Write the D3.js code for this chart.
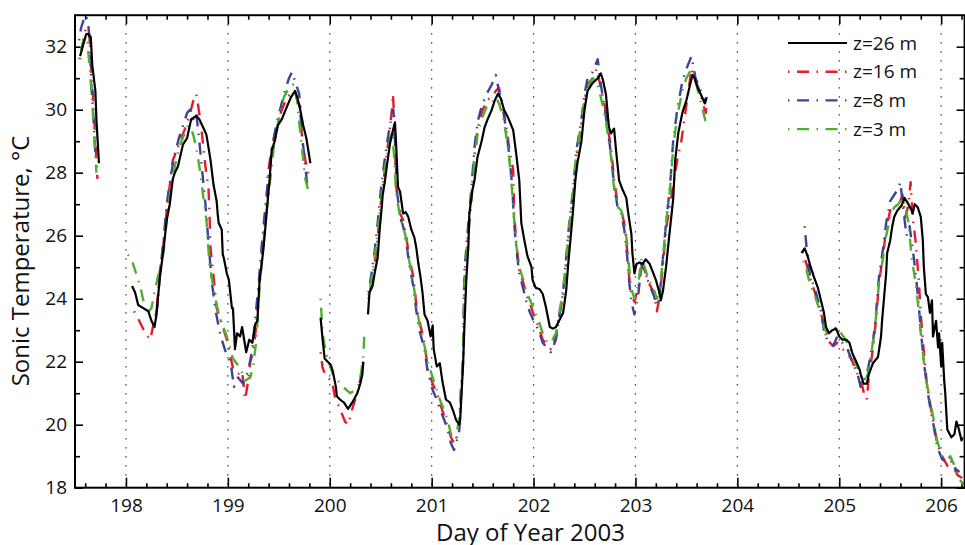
<!DOCTYPE html>
<html>
<head>
<meta charset="utf-8">
<script src="https://cdn.jsdelivr.net/npm/d3@7"></script>
<style>
  body { margin: 0; background: #fff; }
  svg text { font-family: "Open Sans", "Noto Sans", sans-serif; fill: #111; }
</style>
</head>
<body>
<div class="graph_area"></div>
<script>
// tick labels
const dayTicks = [198, 199, 200, 201, 202, 203, 204, 205, 206]
const tempTicks = [18, 20, 22, 24, 26, 28, 30, 32]

// series: [day, temp], null = gap in the record
const z26 = [
  [197.55,31.7],[197.575,32.0],[197.61,32.4],[197.63,32.4],[197.655,32.3],[197.67,31.4],[197.70,30.6],[197.71,29.7],[197.735,28.3],
  null,
  [198.06,24.4],[198.09,24.2],[198.12,23.8],[198.17,23.7],[198.22,23.6],[198.25,23.3],[198.28,23.1],[198.30,23.5],[198.33,24.6],[198.37,25.6],
  [198.40,26.5],[198.43,27.0],[198.46,27.8],[198.48,28.0],[198.51,28.2],[198.56,28.9],[198.60,29.1],[198.64,29.7],[198.69,29.8],[198.72,29.7],
  [198.77,29.35],[198.79,29.2],[198.83,28.4],[198.86,27.6],[198.89,27.1],[198.90,26.7],[198.91,26.4],[198.94,26.2],[198.95,25.4],[198.96,25.3],
  [198.99,24.8],[199.01,24.6],[199.04,23.7],[199.05,23.7],[199.07,22.4],[199.09,22.9],[199.12,22.8],[199.14,23.1],[199.18,22.3],[199.21,22.7],
  [199.24,22.6],[199.27,23.2],[199.29,23.3],[199.31,24.5],[199.35,25.6],[199.38,26.7],[199.41,27.8],[199.43,28.7],[199.46,29.0],[199.49,29.5],
  [199.53,29.7],[199.58,30.1],[199.62,30.4],[199.66,30.6],[199.68,30.4],[199.71,30.0],[199.74,29.5],[199.77,29.1],[199.81,28.3],
  null,
  [199.91,23.4],[199.93,22.7],[199.95,22.1],[199.98,22.0],[200.01,21.9],[200.03,21.7],[200.06,21.2],[200.07,20.9],[200.10,20.8],[200.14,20.7],
  [200.18,20.5],[200.22,20.7],[200.27,21.0],[200.30,21.3],[200.32,21.6],[200.33,22.0],
  null,
  [200.375,23.5],[200.39,24.2],[200.42,24.4],[200.44,24.8],[200.47,25.3],[200.49,26.2],[200.51,26.9],[200.52,27.3],[200.54,27.7],[200.56,28.2],
  [200.59,28.9],[200.62,29.35],[200.64,29.6],[200.65,29.0],[200.67,27.55],[200.69,27.4],[200.72,26.7],[200.745,26.75],[200.77,26.6],[200.80,26.2],
  [200.83,25.95],[200.85,25.6],[200.87,25.1],[200.89,24.7],[200.91,24.2],[200.93,23.5],[200.96,23.3],[200.99,22.8],[201.01,23.15],[201.02,22.4],
  [201.05,21.85],[201.08,21.95],[201.10,21.5],[201.11,21.3],[201.14,20.8],[201.18,20.7],[201.21,20.45],[201.24,20.15],[201.27,20.0],[201.28,20.15],
  [201.30,21.4],[201.31,22.05],[201.32,23.0],[201.34,24.6],[201.36,25.65],[201.37,26.7],[201.40,27.45],[201.42,27.75],[201.45,28.5],[201.49,29.0],
  [201.52,29.45],[201.55,29.7],[201.59,30.0],[201.62,30.3],[201.65,30.5],[201.68,30.35],[201.71,30.0],[201.75,29.75],[201.80,29.35],[201.83,28.6],
  [201.86,27.75],[201.88,26.4],[201.91,25.85],[201.94,25.35],[201.98,25.0],[201.99,24.6],[202.02,24.35],[202.06,24.3],[202.09,24.15],[202.12,23.75],
  [202.16,23.1],[202.19,23.05],[202.22,23.1],[202.25,23.3],[202.29,23.55],[202.32,24.25],[202.34,25.1],[202.37,26.15],[202.385,26.7],[202.41,27.75],
  [202.43,28.3],[202.47,29.0],[202.50,30.0],[202.53,30.6],[202.58,30.85],[202.63,31.0],[202.66,31.15],[202.68,30.95],[202.71,30.5],[202.74,29.45],
  [202.76,29.25],[202.79,29.4],[202.81,28.7],[202.84,27.75],[202.875,27.45],[202.91,27.2],[202.93,26.7],[202.96,26.05],[202.97,25.45],[202.99,24.8],
  [203.01,25.1],[203.04,25.15],[203.07,25.1],[203.10,25.25],[203.14,25.1],[203.17,24.85],[203.20,24.6],[203.23,24.25],[203.25,23.95],[203.27,24.25],
  [203.30,25.0],[203.33,25.95],[203.37,27.15],[203.39,28.4],[203.42,29.25],[203.46,29.9],[203.50,30.3],[203.54,30.85],[203.56,31.1],[203.58,31.0],
  [203.61,30.7],[203.64,30.5],[203.68,30.2],[203.70,30.4],
  null,
  [204.63,25.45],[204.66,25.6],[204.69,25.35],[204.72,25.0],[204.75,24.7],[204.79,24.35],[204.82,23.95],[204.85,23.55],[204.87,23.1],[204.90,22.9],
  [204.93,23.0],[204.97,23.05],[205.00,22.8],[205.03,22.7],[205.07,22.7],[205.10,22.6],[205.13,22.25],[205.16,22.05],[205.20,21.75],[205.21,21.6],
  [205.24,21.3],[205.27,21.3],[205.29,21.6],[205.33,21.95],[205.38,22.15],[205.41,22.8],[205.42,23.3],[205.44,24.05],[205.46,24.8],[205.47,25.45],
  [205.50,25.85],[205.52,26.3],[205.54,26.6],[205.57,26.8],[205.61,26.95],[205.64,27.2],[205.67,27.05],[205.71,26.8],[205.72,26.7],[205.74,27.0],
  [205.77,26.9],[205.80,26.6],[205.82,25.85],[205.83,25.0],[205.85,24.15],[205.87,24.05],[205.89,23.55],[205.91,23.95],[205.92,22.8],[205.95,23.3],
  [205.97,22.45],[205.98,22.9],[206.00,21.85],[206.01,22.6],[206.03,21.4],[206.04,21.0],[206.06,19.85],[206.10,19.6],[206.13,19.7],[206.15,20.1],
  [206.17,19.9],[206.20,19.5],[206.21,19.6]
]

const z16 = [
  [197.55,31.6],[197.57,32.0],[197.60,32.5],[197.62,32.6],[197.64,32.4],[197.66,31.2],[197.68,30.3],[197.70,29.0],[197.72,27.8],
  null,
  [198.08,23.6],[198.13,23.3],[198.19,22.9],[198.24,22.7],[198.27,23.2],[198.30,23.6],[198.33,24.8],[198.37,25.8],[198.40,26.8],[198.43,27.6],
  [198.46,28.4],[198.50,28.7],[198.53,29.0],[198.58,29.4],[198.63,29.9],[198.67,30.4],[198.69,30.5],[198.71,30.1],[198.74,29.4],[198.76,28.8],
  [198.78,28.2],[198.81,27.5],[198.82,26.7],[198.83,25.6],[198.86,24.7],[198.89,23.7],[198.94,23.2],[198.99,22.7],[199.05,21.8],[199.10,21.6],
  [199.14,21.7],[199.17,20.8],[199.20,21.4],[199.22,22.0],[199.25,22.3],[199.28,23.2],[199.31,24.6],[199.35,26.0],[199.38,26.9],[199.39,27.9],
  [199.43,28.8],[199.48,29.5],[199.53,30.0],[199.58,30.4],[199.62,30.5],[199.67,30.4],[199.71,30.1],[199.73,29.0],[199.76,28.4],[199.79,27.9],
  null,
  [199.91,22.3],[199.93,21.8],[199.97,21.5],[200.02,21.4],[200.05,20.9],[200.10,20.5],[200.15,20.1],[200.18,20.0],[200.23,20.6],[200.28,21.1],
  [200.31,21.6],[200.33,22.1],
  null,
  [200.38,24.0],[200.41,24.5],[200.44,25.1],[200.47,25.9],[200.50,27.0],[200.53,27.8],[200.56,28.6],[200.59,29.4],[200.61,30.0],[200.62,30.5],
  [200.635,29.6],[200.65,27.6],[200.69,26.7],[200.72,26.5],[200.75,26.0],[200.78,25.3],[200.82,24.7],[200.85,23.8],[200.88,23.3],[200.93,22.6],
  [200.96,21.8],[201.01,21.3],[201.05,21.0],[201.08,20.7],[201.13,20.2],[201.16,19.9],[201.19,19.6],[201.22,19.4],[201.24,19.5],[201.27,19.9],
  [201.29,21.2],[201.31,22.1],[201.32,24.5],[201.36,26.2],[201.39,27.2],[201.42,28.6],[201.45,29.4],[201.49,29.9],[201.54,30.3],[201.59,30.4],
  [201.63,30.6],[201.66,30.7],[201.70,30.1],[201.73,29.5],[201.76,28.8],[201.80,28.1],[201.81,26.7],[201.83,25.8],[201.86,24.9],[201.90,24.5],
  [201.93,24.1],[201.96,23.9],[202.00,23.5],[202.05,23.1],[202.09,22.7],[202.14,22.5],[202.17,22.4],[202.22,22.8],[202.25,23.4],[202.29,24.1],
  [202.32,25.1],[202.35,26.2],[202.39,27.3],[202.42,28.5],[202.47,29.5],[202.50,30.3],[202.53,30.8],[202.58,31.0],[202.62,31.3],[202.66,30.7],
  [202.70,30.1],[202.73,29.4],[202.76,28.8],[202.79,27.8],[202.83,26.9],[202.86,26.8],[202.89,26.4],[202.92,25.5],[202.94,24.6],[202.96,24.1],
  [202.99,23.9],[203.03,24.4],[203.06,25.0],[203.09,24.9],[203.13,24.5],[203.18,24.2],[203.21,23.6],[203.24,24.1],[203.27,25.1],[203.30,26.2],
  [203.34,27.0],[203.37,27.6],[203.41,28.4],[203.45,29.0],[203.48,29.7],[203.52,30.6],[203.55,31.3],[203.59,30.9],[203.63,30.6],[203.66,30.2],
  [203.69,29.9],[203.70,30.3],
  null,
  [204.64,25.5],[204.67,25.2],[204.71,24.7],[204.77,24.1],[204.82,23.6],[204.85,23.1],[204.88,22.7],[204.94,22.5],[204.98,22.6],[205.03,22.4],
  [205.08,22.3],[205.13,22.0],[205.18,21.6],[205.22,21.3],[205.25,20.9],[205.27,20.8],[205.29,21.5],[205.33,22.4],[205.36,23.3],[205.39,24.5],
  [205.43,25.4],[205.46,26.2],[205.50,26.8],[205.54,27.0],[205.58,26.9],[205.62,27.3],[205.65,26.6],[205.68,27.0],[205.70,27.7],[205.72,26.6],
  [205.75,25.8],[205.78,24.6],[205.80,23.5],[205.83,22.3],[205.86,21.3],[205.90,20.5],[205.93,20.0],[205.96,19.4],[206.01,19.0],[206.06,18.7],
  [206.09,18.9],[206.13,18.6],[206.16,18.4],[206.21,18.3]
]

const z8 = [
  [197.54,32.2],[197.56,32.6],[197.59,32.9],[197.61,33.0],[197.63,32.7],[197.65,32.0],[197.66,30.8],[197.68,29.8],[197.70,28.6],
  null,
  [198.28,23.2],[198.31,23.8],[198.34,25.0],[198.37,25.9],[198.40,27.0],[198.44,27.9],[198.48,28.6],[198.52,29.1],[198.56,29.5],[198.60,29.9],
  [198.63,30.0],[198.66,29.7],[198.69,29.9],[198.72,29.0],[198.75,28.0],[198.78,27.0],[198.81,25.8],[198.84,24.6],[198.88,23.6],[198.93,22.8],
  [198.98,22.3],[199.03,21.9],[199.06,21.2],[199.10,21.5],[199.15,21.3],[199.20,21.7],[199.24,22.4],[199.27,23.4],[199.30,24.4],[199.33,25.6],
  [199.37,27.0],[199.40,27.9],[199.44,28.9],[199.48,29.6],[199.52,30.1],[199.56,30.6],[199.60,31.0],[199.63,31.2],[199.66,30.9],[199.70,30.5],
  [199.72,29.5],[199.75,28.5],[199.78,27.6],
  null,
  [200.38,24.2],[200.41,24.8],[200.44,25.5],[200.47,26.4],[200.50,27.4],[200.53,28.2],[200.56,28.9],[200.59,29.5],[200.61,29.8],[200.625,30.0],
  [200.64,29.0],[200.66,27.4],[200.69,26.6],[200.72,26.3],[200.75,25.8],[200.78,25.1],[200.82,24.4],[200.85,23.6],[200.88,23.0],[200.93,22.4],
  [200.96,21.7],[201.01,21.1],[201.05,20.8],[201.08,20.5],[201.13,20.1],[201.16,19.8],[201.19,19.4],[201.22,19.2],[201.24,19.4],[201.27,19.8],
  [201.29,21.0],[201.31,22.0],[201.32,24.8],[201.36,26.4],[201.39,27.5],[201.42,28.8],[201.45,29.6],[201.49,30.1],[201.54,30.5],[201.59,30.8],
  [201.63,31.1],[201.66,30.6],[201.70,30.0],[201.73,29.4],[201.76,28.6],[201.79,27.6],[201.81,26.4],[201.83,25.6],[201.86,24.8],[201.90,24.3],
  [201.93,23.9],[201.96,23.6],[202.00,23.3],[202.05,23.0],[202.09,22.6],[202.14,22.4],[202.17,22.3],[202.22,22.7],[202.25,23.4],[202.29,24.2],
  [202.32,25.3],[202.35,26.4],[202.39,27.5],[202.42,28.7],[202.47,29.7],[202.50,30.5],[202.53,31.0],[202.58,31.2],[202.63,31.6],[202.66,30.8],
  [202.70,30.0],[202.73,29.3],[202.76,28.6],[202.79,27.6],[202.83,26.8],[202.86,26.7],[202.89,26.2],[202.92,25.3],[202.94,24.5],[202.96,23.9],
  [202.99,23.5],[203.03,24.2],[203.06,25.1],[203.09,24.9],[203.13,24.5],[203.18,24.1],[203.21,23.8],[203.24,24.2],[203.27,25.3],[203.30,26.4],
  [203.34,27.6],[203.37,29.0],[203.41,30.0],[203.46,30.9],[203.50,31.3],[203.55,31.7],[203.59,31.0],[203.63,30.7],[203.66,30.4],[203.69,30.2],
  null,
  [204.66,26.3],[204.68,25.6],[204.71,24.8],[204.77,24.2],[204.82,23.6],[204.85,23.0],[204.88,22.7],[204.94,22.5],[204.98,22.8],[205.03,22.6],
  [205.08,22.4],[205.13,22.0],[205.18,21.6],[205.21,21.2],[205.24,21.4],[205.27,21.6],[205.29,21.9],[205.33,22.6],[205.36,23.5],[205.39,24.7],
  [205.43,25.6],[205.46,26.4],[205.50,27.1],[205.54,27.3],[205.58,27.5],[205.60,27.7],[205.63,26.8],[205.66,26.0],[205.69,26.3],[205.72,25.6],
  [205.75,24.8],[205.78,23.8],[205.80,23.0],[205.83,22.0],[205.86,21.2],[205.90,20.4],[205.93,19.9],[205.96,19.3],[206.01,18.9],[206.06,18.8],
  [206.10,18.9],[206.14,18.6],[206.18,18.5]
]

const z3 = [
  [197.54,31.6],[197.56,31.9],[197.59,32.3],[197.62,32.2],[197.645,31.3],[197.67,30.2],[197.69,29.1],[197.71,28.0],
  null,
  [198.02,25.4],[198.06,25.2],[198.10,24.8],[198.14,24.4],[198.20,23.5],[198.25,23.7],[198.28,24.2],[198.32,24.8],[198.37,25.5],[198.40,26.5],
  [198.44,27.5],[198.48,28.2],[198.52,28.8],[198.57,29.2],[198.61,29.5],[198.64,29.4],[198.66,29.2],[198.69,28.8],[198.73,28.0],[198.76,27.2],
  [198.79,26.5],[198.82,25.1],[198.87,24.1],[198.92,23.4],[198.99,22.8],[199.05,22.1],[199.12,21.8],[199.17,21.4],[199.22,21.5],[199.25,21.9],
  [199.28,22.7],[199.31,24.3],[199.35,25.8],[199.38,26.8],[199.41,27.6],[199.45,28.8],[199.50,29.7],[199.55,30.4],[199.60,30.7],[199.64,30.8],
  [199.68,30.3],[199.70,29.6],[199.72,29.0],[199.76,27.8],[199.80,27.3],
  null,
  [199.91,24.0],[199.93,22.9],[199.96,22.3],[199.99,22.0],[200.03,21.6],[200.08,21.4],[200.13,21.2],[200.20,21.0],[200.25,21.1],[200.29,21.3],
  [200.31,21.7],[200.33,22.2],[200.34,22.9],
  null,
  [200.38,24.1],[200.41,24.6],[200.44,25.3],[200.47,26.1],[200.50,27.0],[200.53,27.9],[200.56,28.5],[200.59,29.0],[200.61,29.3],[200.63,28.6],
  [200.65,27.4],[200.69,26.6],[200.72,26.3],[200.75,25.9],[200.78,25.2],[200.82,24.5],[200.85,23.8],[200.88,23.2],[200.93,22.5],[200.96,22.0],
  [201.01,21.5],[201.05,21.1],[201.08,20.8],[201.13,20.4],[201.16,20.1],[201.19,19.7],[201.22,19.5],[201.24,19.6],[201.27,20.2],[201.29,21.3],
  [201.31,22.3],[201.32,24.4],[201.36,26.0],[201.39,27.1],[201.42,28.4],[201.45,29.2],[201.49,29.7],[201.54,30.1],[201.59,30.2],[201.63,30.4],
  [201.66,30.2],[201.70,29.8],[201.73,29.2],[201.76,28.5],[201.79,27.4],[201.81,26.5],[201.83,25.7],[201.86,25.0],[201.90,24.6],[201.93,24.2],
  [201.96,24.0],[202.00,23.7],[202.05,23.3],[202.09,22.9],[202.14,22.6],[202.17,22.6],[202.22,22.9],[202.25,23.5],[202.29,24.3],[202.32,25.2],
  [202.35,26.3],[202.39,27.4],[202.42,28.6],[202.47,29.6],[202.50,30.3],[202.53,30.7],[202.58,31.0],[202.62,30.9],[202.66,30.4],[202.70,29.8],
  [202.73,29.2],[202.76,28.5],[202.79,27.5],[202.83,26.9],[202.86,26.8],[202.89,26.5],[202.92,25.7],[202.94,24.9],[202.96,24.3],[202.99,24.0],
  [203.03,24.5],[203.06,25.3],[203.09,25.0],[203.13,24.6],[203.18,24.3],[203.21,24.0],[203.24,24.3],[203.27,25.3],[203.30,26.4],[203.34,27.5],
  [203.37,28.8],[203.41,29.8],[203.46,30.6],[203.50,31.0],[203.55,31.3],[203.59,30.9],[203.63,30.4],[203.66,30.0],[203.69,29.6],
  null,
  [204.65,25.2],[204.68,24.9],[204.71,24.5],[204.77,24.0],[204.82,23.5],[204.85,23.1],[204.88,22.9],[204.93,23.0],[204.97,23.1],[205.02,22.9],
  [205.08,22.6],[205.13,22.2],[205.18,21.8],[205.22,21.5],[205.25,21.4],[205.28,21.6],[205.30,22.0],[205.33,22.6],[205.36,23.4],[205.39,24.5],
  [205.43,25.3],[205.46,26.0],[205.50,26.6],[205.54,26.9],[205.58,27.0],[205.62,27.2],[205.65,26.9],[205.68,26.4],[205.71,25.3],[205.75,24.5],
  [205.78,23.6],[205.80,22.9],[205.83,22.0],[205.86,21.3],[205.90,20.6],[205.93,20.1],[205.96,19.5],[206.01,19.0],[206.06,18.9],[206.09,19.0],
  [206.13,18.7],[206.17,18.3],[206.22,18.1]
]

const seriesNames = ["z=26 m", "z=16 m", "z=8 m", "z=3 m"]
const seriesData = [z26, z16, z8, z3]
const seriesColors = ["#000000", "#e8192c", "#3d4397", "#4fae2e"]

const margin = { top: 15.2, left: 75, right: 0.4, bottom: 57.3 }
const width = 965 - margin.left - margin.right
const height = 545 - margin.top - margin.bottom
const dashDot = "1.5,7.5,12,7.5"

const xScale = d3.scaleLinear().domain([197.5, 206.23]).range([0, width])
const yScale = d3.scaleLinear().domain([18, 33]).range([height, 0])

const svg = d3.select('.graph_area')
  .append('svg')
  .attr('width', 965)
  .attr('height', 545)
  .append('g')
  .attr('transform', `translate(${margin.left}, ${margin.top})`)

svg.append('clipPath').attr('id', 'plot-clip')
  .append('rect').attr('width', width).attr('height', height)

// dotted day lines
svg.append('g').selectAll('line')
  .data(dayTicks)
  .join('line')
  .attr('x1', d => xScale(d)).attr('x2', d => xScale(d))
  .attr('y1', 0).attr('y2', height)
  .attr('stroke', '#222')
  .attr('stroke-width', 1.3)
  .attr('stroke-dasharray', '1.3,7.7')

// minor ticks, every 0.2 day and every 1 degree
const minorDays = d3.range(197.6, 206.23, 0.2).filter(d => Math.abs(d - Math.round(d)) > 0.05)
const minorTemps = d3.range(19, 33, 2)

function styleAxis(g) {
  g.select('.domain').remove()
  g.selectAll('.tick line').attr('stroke', '#000').attr('stroke-width', 1.6)
  g.selectAll('.tick text').attr('font-size', 19).attr('fill', '#111')
}

svg.append('g').attr('transform', `translate(0, ${height})`)
  .call(d3.axisBottom(xScale).tickValues(dayTicks).tickSize(-10).tickPadding(11).tickFormat(d3.format('d')))
  .call(styleAxis)
svg.append('g').attr('transform', `translate(0, ${height})`)
  .call(d3.axisBottom(xScale).tickValues(minorDays).tickSize(-4.5).tickFormat(''))
  .call(styleAxis)
svg.append('g')
  .call(d3.axisTop(xScale).tickValues(dayTicks).tickSize(-9).tickFormat(''))
  .call(styleAxis)
svg.append('g')
  .call(d3.axisTop(xScale).tickValues(minorDays).tickSize(-4.5).tickFormat(''))
  .call(styleAxis)

svg.append('g')
  .call(d3.axisLeft(yScale).tickValues(tempTicks).tickSize(-8).tickPadding(8).tickFormat(d3.format('d')))
  .call(styleAxis)
svg.append('g')
  .call(d3.axisLeft(yScale).tickValues(minorTemps).tickSize(-5).tickFormat(''))
  .call(styleAxis)
svg.append('g').attr('transform', `translate(${width}, 0)`)
  .call(d3.axisRight(yScale).tickValues(tempTicks).tickSize(-8).tickFormat(''))
  .call(styleAxis)
svg.append('g').attr('transform', `translate(${width}, 0)`)
  .call(d3.axisRight(yScale).tickValues(minorTemps).tickSize(-5).tickFormat(''))
  .call(styleAxis)

// the traces
const line = d3.line()
  .defined(d => d !== null)
  .x(d => xScale(d[0]))
  .y(d => yScale(d[1]))

const order = [1, 2, 3, 0]   // black drawn last so it stays on top
order.forEach(i => {
  svg.append('path')
    .datum(seriesData[i])
    .attr('clip-path', 'url(#plot-clip)')
    .attr('fill', 'none')
    .attr('stroke', seriesColors[i])
    .attr('stroke-width', i === 0 ? 2.2 : 2.4)
    .attr('stroke-dasharray', i === 0 ? null : dashDot)
    .attr('stroke-linejoin', 'round')
    .attr('d', line)
})

// frame
svg.append('rect')
  .attr('width', width).attr('height', height)
  .attr('fill', 'none')
  .attr('stroke', '#000')
  .attr('stroke-width', 2)

// legend
const legend = svg.append('g').attr('transform', `translate(${788 - margin.left}, ${43 - margin.top})`)
seriesNames.forEach((name, i) => {
  const row = legend.append('g').attr('transform', `translate(0, ${i * 28.7})`)
  row.append('line')
    .attr('x1', 0).attr('x2', 59).attr('y1', 0).attr('y2', 0)
    .attr('stroke', seriesColors[i])
    .attr('stroke-width', i === 0 ? 2.2 : 2.4)
    .attr('stroke-dasharray', i === 0 ? null : dashDot)
  row.append('text')
    .attr('x', 65).attr('y', 0).attr('dy', '0.35em')
    .attr('font-size', 19)
    .text(name)
})

// axis titles
svg.append('text')
  .attr('x', xScale(201.97)).attr('y', 541 - margin.top)
  .attr('text-anchor', 'middle')
  .attr('font-size', 24)
  .text('Day of Year 2003')

svg.append('text')
  .attr('transform', `translate(${29 - margin.left}, ${261 - margin.top}) rotate(-90)`)
  .attr('text-anchor', 'middle')
  .attr('font-size', 24)
  .text('Sonic Temperature, °C')
</script>
</body>
</html>
